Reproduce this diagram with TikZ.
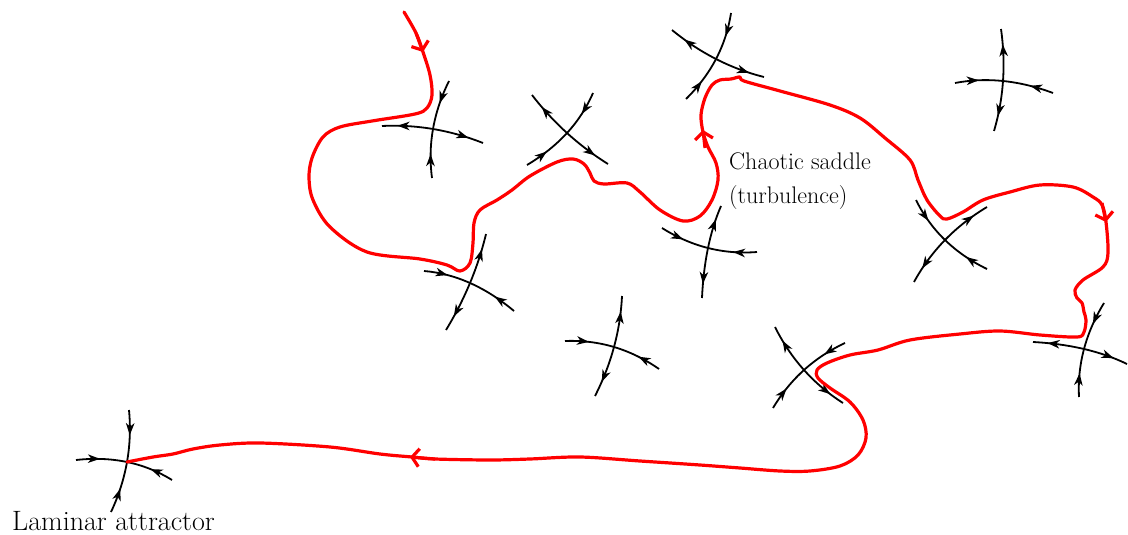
\documentclass[tikz,border=0pt]{standalone}
\usetikzlibrary{arrows.meta,decorations.markings,calc}
\tikzset{
  orbit/.style={black, line width=1.8pt},
  tipA/.tip={Stealth[length=12pt,width=8.5pt,inset=3.5pt]},
  stab/.style={orbit, postaction={decorate}, decoration={markings,
      mark=at position 0.24 with {\arrow{tipA}},
      mark=at position 0.76 with {\arrowreversed{tipA}}}},
  unst/.style={orbit, postaction={decorate}, decoration={markings,
      mark=at position 0.15 with {\arrowreversed{tipA}},
      mark=at position 0.85 with {\arrow{tipA}}}},
  redpath/.style={red, line width=3.2pt, line cap=round, line join=round},
  redtip/.style={red, line width=3.2pt, -{Straight Barb[length=7pt,width=18pt]}},
  lab/.style={inner sep=0pt, font=\fontsize{24}{34}\selectfont},
  lab2/.style={inner sep=0pt, font=\fontsize{28}{34}\selectfont}
}
% #1 style, #2 end, #3 centre, #4 end : parabola through the centre
\newcommand\sadpath[4]{%
  \coordinate (qa) at (#2);
  \coordinate (qb) at (#4);
  \coordinate (qm) at (#3);
  \coordinate (qq) at ($2*(qm)-0.5*(qa)-0.5*(qb)$);
  \draw[#1] (qa) .. controls ($(qa)!2/3!(qq)$) and ($(qb)!2/3!(qq)$) .. (qb);
}
\begin{document}
\begin{tikzpicture}[x=1pt,y=-1pt]
\path[use as bounding box] (0,0) rectangle (1128,535);
% saddle centres
\coordinate (s1) at (433,129);
\coordinate (s2) at (567,133);
\coordinate (s3) at (716,59);
\coordinate (s4) at (1003,81);
\coordinate (s5) at (470,283);
\coordinate (s6) at (708,248);
\coordinate (s7) at (945,240);
\coordinate (s8) at (1084,349);
\coordinate (s9) at (614,347);
\coordinate (s10) at (804,370);
\coordinate (att) at (127,462);
% saddles
\sadpath{stab}{449,81}{s1}{432,178}
\sadpath{unst}{382,126}{s1}{483,143}
\sadpath{unst}{532,95}{s2}{608,164}
\sadpath{stab}{593,93}{s2}{527,165}
\sadpath{unst}{672,30}{s3}{764,77}
\sadpath{stab}{731,13}{s3}{686,99}
\sadpath{unst}{1001,29}{s4}{994,131}
\sadpath{stab}{955,83}{s4}{1053,93}
\sadpath{unst}{486,234}{s5}{446,330}
\sadpath{stab}{424,271}{s5}{514,311}
\sadpath{stab}{662,228}{s6}{757,252}
\sadpath{unst}{721,206}{s6}{702,298}
\sadpath{stab}{916,200}{s7}{987,269}
\sadpath{unst}{987,207}{s7}{914,282}
\sadpath{stab}{1104,303}{s8}{1079,397}
\sadpath{unst}{1033,342}{s8}{1127,364}
\sadpath{stab}{565,341}{s9}{659,369}
\sadpath{unst}{622,296}{s9}{595,396}
\sadpath{unst}{775,327}{s10}{843,403}
\sadpath{stab}{845,343}{s10}{773,408}
% laminar attractor
\sadpath{stab}{129,410}{att}{111,512}
\sadpath{stab}{76,460}{att}{172,480}
% red trajectory
\draw[redpath] plot[smooth, tension=0.55] coordinates {
(404,12) (416,33) (423,52) (430,75) (432,95) (427,108) (415,114) (372,121)
(340,127) (323,137) (312,158) (309,178) (313,200) (330,227) (367,252)
(420,259) (447,265) (460,271) (470,263) (473,243) (474,223) (480,210)
(497,200) (512,190) (530,176) (557,162) (573,159) (584,164) (590,173)
(594,181) (604,184) (627,183) (640,192) (660,210) (683,221) (700,216)
(712,200) (718,180) (716,163) (708,147) (703,132) (701,115) (705,98)
(712,85) (720,80) (731,79) (740,77) (744,81) (780,91) (830,105) (860,118)
(885,138) (910,160) (918,180) (927,200) (940,216) (947,219) (963,212)
(983,200) (1010,192) (1040,185) (1073,187) (1093,197) (1102,205) (1106,222)
(1108,253) (1103,267) (1083,280) (1075,290) (1077,298) (1082,303) (1084,312)
(1086,320) (1084,332) (1077,337) (1040,335) (1000,331) (960,334) (910,340)
(878,350) (850,355) (827,363) (817,370) (818,378) (830,388) (850,402)
(863,420) (866,438) (858,455) (840,466) (810,471) (780,471) (740,468)
(700,465) (640,461) (580,457) (530,459) (490,460) (435,459) (412,457)
(380,454) (330,447) (260,443) (220,445) (193,449) (173,454) (153,457) (att)};
\draw[redtip] (416,33) -- (423,52);
\draw[redtip] (705,148) -- (703,130);
\draw[redtip] (1102,203) -- (1106,222);
\draw[redtip] (435,459) -- (410,457);
% labels
\node[lab, anchor=north west, align=left] (chaos) at (729,153) {Chaotic saddle\\(turbulence)};
\node[lab2, anchor=base west] (laminar) at (12,530) {Laminar attractor};
\end{tikzpicture}
\end{document}
